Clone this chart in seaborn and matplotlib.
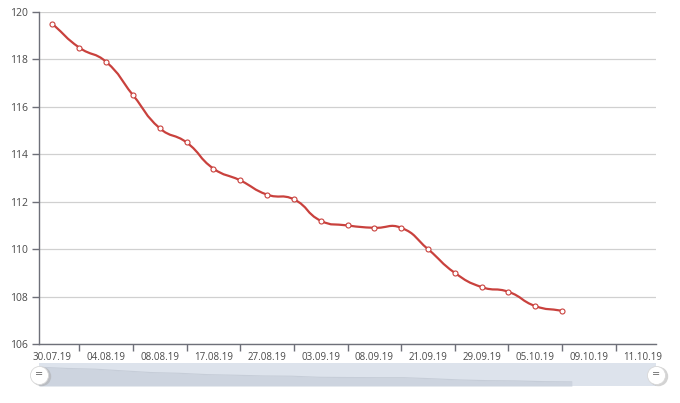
import numpy as np
import pandas as pd
import matplotlib.pyplot as plt
import seaborn as sns
from matplotlib.path import Path
from matplotlib.patches import PathPatch

# categories shown on the x axis (every second category is labelled)
tick_labels = ['30.07.19', '04.08.19', '08.08.19', '17.08.19', '27.08.19', '03.09.19',
               '08.09.19', '21.09.19', '29.09.19', '05.10.19', '09.10.19', '11.10.19']
n_categories = 23
values = [119.5, 118.5, 117.9, 116.5, 115.1, 114.5, 113.4, 112.9, 112.3, 112.1,
          111.2, 111.0, 110.9, 110.9, 110.0, 109.0, 108.4, 108.2, 107.6, 107.4]
y_ticks = [106, 108, 110, 112, 114, 116, 118, 120]

df = pd.DataFrame({'idx': np.arange(len(values)), 'value': values})

red = '#c9413d'
axis_col = '#6e7079'
text_col = '#4a4a4a'

sns.set_style('white')
plt.rcParams['font.family'] = ['Open Sans', 'DejaVu Sans']

fig = plt.figure(figsize=(6.8, 4.03), dpi=100)
ax = fig.add_axes([39 / 680, 1 - 344 / 403, 617 / 680, 332 / 403])


def smooth_path(xs, ys, sx, sy, smooth=0.5):
    # echarts-like bezier smoothing, computed in (roughly) pixel space
    P = np.column_stack([np.asarray(xs, float) * sx, np.asarray(ys, float) * sy])
    n = len(P)
    cin, cout = [], []
    for i in range(n):
        prev = P[i - 1] if i > 0 else P[i]
        nxt = P[i + 1] if i < n - 1 else P[i]
        v = (nxt - prev) * smooth
        d0 = np.hypot(*(P[i] - prev))
        d1 = np.hypot(*(P[i] - nxt))
        s = d0 + d1
        if s:
            d0, d1 = d0 / s, d1 / s
        cin.append(P[i] - v * d0)
        cout.append(P[i] + v * d1)
    verts = [P[0]]
    codes = [Path.MOVETO]
    for i in range(n - 1):
        verts += [cout[i], cin[i + 1], P[i + 1]]
        codes += [Path.CURVE4] * 3
    verts = np.array(verts) / np.array([sx, sy])
    return Path(verts, codes)


ax.add_patch(PathPatch(smooth_path(df['idx'], df['value'], 26.8, 23.7),
                       facecolor='none', edgecolor=red, lw=1.6, zorder=3))
sns.scatterplot(data=df, x='idx', y='value', ax=ax, s=13, color='white',
                edgecolor=red, linewidth=0.8, zorder=4)

ax.set_xlim(-0.5, n_categories - 0.5)
ax.set_ylim(106, 120)
ax.set_yticks(y_ticks)
ax.set_yticklabels([str(t) for t in y_ticks])
ax.set_xticks(np.arange(0, n_categories, 2))
ax.set_xticklabels(tick_labels)
ax.set_xticks(np.arange(1, n_categories, 2), minor=True)
ax.set_xlabel('')
ax.set_ylabel('')
ax.grid(axis='y', color='#d0d0d0', lw=0.9)
ax.set_axisbelow(True)
for side in ['top', 'right']:
    ax.spines[side].set_visible(False)
for side in ['left', 'bottom']:
    ax.spines[side].set_color(axis_col)
    ax.spines[side].set_linewidth(1)
ax.tick_params(axis='x', which='major', length=0, pad=6, labelsize=7, labelcolor=text_col)
ax.tick_params(axis='x', which='minor', length=5, width=1, color=axis_col, bottom=True)
ax.tick_params(axis='y', length=5, width=1, color=axis_col, pad=3, labelsize=7.5,
               labelcolor=text_col, left=True)

# data zoom slider
sl = fig.add_axes([39 / 680, 1 - 386 / 403, 617 / 680, 23 / 403])
sl.set_facecolor('#dde3ec')
sl.fill_between(df['idx'], 104, df['value'], color='#cdd4df', lw=0)
sns.lineplot(data=df, x='idx', y='value', ax=sl, color='#c6cdd8', lw=0.8)
sl.set_xlim(0, n_categories - 1)
sl.set_ylim(104, 123)
sl.set_xticks([])
sl.set_yticks([])
sl.set_xlabel('')
sl.set_ylabel('')
for sp in sl.spines.values():
    sp.set_visible(False)
for hx in [0, 1]:
    sl.plot([hx + 0.004], [0.42], transform=sl.transAxes, marker='o', ms=14,
            mfc='#a8a8a8', mec='none', alpha=0.5, clip_on=False, zorder=5)
    sl.plot([hx], [0.5], transform=sl.transAxes, marker='o', ms=13,
            mfc='white', mec='#d8d8d8', mew=0.6, clip_on=False, zorder=6)
    sl.text(hx, 0.5, '=', transform=sl.transAxes, ha='center', va='center',
            fontsize=7, color='#666666', zorder=7, family='DejaVu Sans')

fig.savefig('out.png', dpi=100)
